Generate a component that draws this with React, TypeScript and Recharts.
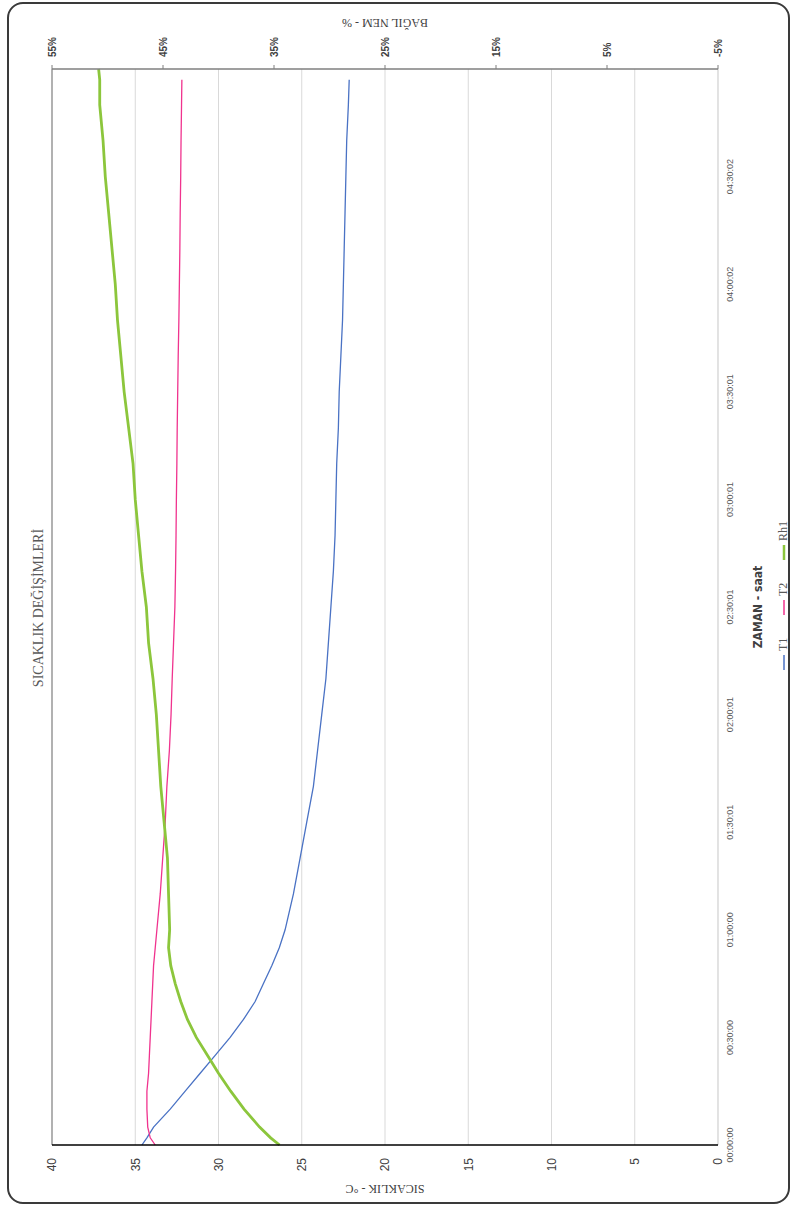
import React from 'react'
import { LineChart, Line, XAxis, YAxis, CartesianGrid, Legend, ReferenceLine, Label } from 'recharts'

// elapsed time in minutes
const minutes = [0, 2, 5, 10, 15, 20, 25, 30, 35, 40, 45, 50, 55, 60, 70, 80, 90, 100, 110, 120, 130, 140, 150, 160, 170, 180, 190, 200, 210, 220, 230, 240, 250, 260, 270, 280, 290, 297, 300]

const t1 = [34.6, 34.3, 33.9, 32.9, 32.0, 31.1, 30.2, 29.3, 28.5, 27.8, 27.3, 26.8, 26.35, 26.0, 25.5, 25.1, 24.7, 24.3, 24.05, 23.8, 23.55, 23.4, 23.25, 23.1, 23.0, 22.95, 22.9, 22.8, 22.75, 22.65, 22.55, 22.5, 22.45, 22.4, 22.35, 22.3, 22.2, 22.15, null]

const t2 = [33.8, 34.1, 34.25, 34.3, 34.3, 34.2, 34.15, 34.1, 34.05, 34.0, 33.95, 33.9, 33.8, 33.7, 33.5, 33.35, 33.2, 33.1, 32.95, 32.85, 32.78, 32.7, 32.62, 32.58, 32.55, 32.53, 32.5, 32.48, 32.45, 32.42, 32.38, 32.35, 32.32, 32.3, 32.27, 32.25, 32.22, 32.2, null]

const rh1 = [34.5, 35.3, 36.3, 37.7, 38.9, 40.0, 41.0, 42.0, 42.8, 43.4, 43.9, 44.3, 44.5, 44.4, 44.5, 44.6, 44.9, 45.2, 45.4, 45.6, 45.9, 46.3, 46.5, 46.9, 47.2, 47.5, 47.7, 48.1, 48.5, 48.8, 49.1, 49.3, 49.6, 49.9, 50.2, 50.4, 50.7, 50.7, 50.8]

const timeTicks = [0, 30, 60, 90, 120, 150, 180, 210, 240, 270]
const timeLabels = ['00:00:00', '00:30:00', '01:00:00', '01:30:01', '02:00:01', '02:30:01', '03:00:01', '03:30:01', '04:00:02', '04:30:02']
const tempTicks = [0, 5, 10, 15, 20, 25, 30, 35, 40]
const rhTicks = [-5, 5, 15, 25, 35, 45, 55]

const data = minutes.map((m, i) => ({ m, T1: t1[i], T2: t2[i], Rh1: rh1[i] }))

const SERIES = [
  { key: 'T1', color: '#4a72c4', width: 1.3, axis: 'temp' },
  { key: 'T2', color: '#f0338e', width: 1.3, axis: 'temp' },
  { key: 'Rh1', color: '#8cc63c', width: 2.8, axis: 'rh' },
]

const LegendBox = () => (
  <div style={{ position: 'relative', height: 16 }}>
    {SERIES.map((s, i) => (
      <div
        key={s.key}
        style={{
          position: 'absolute',
          left: 537 + i * 55,
          top: 0,
          display: 'flex',
          alignItems: 'center',
          fontFamily: 'Liberation Serif, serif',
          fontSize: 12,
          color: '#595959',
        }}
      >
        <svg width={15} height={10} style={{ marginRight: 4 }}>
          <line x1={0} y1={5} x2={15} y2={5} stroke={s.color} strokeWidth={s.width > 2 ? 2.5 : 1.5} />
        </svg>
        {s.key}
      </div>
    ))}
  </div>
)

const App = () => {
  return (
    <div style={{ position: 'absolute', left: 0, top: 0, width: 793, height: 1207, overflow: 'hidden', background: '#fff' }}>
      <div
        style={{
          position: 'absolute',
          left: 7,
          top: 2,
          width: 783,
          height: 1202,
          boxSizing: 'border-box',
          border: '2px solid #3a3a3a',
          borderRadius: 16,
        }}
      />
      <div
        style={{
          position: 'absolute',
          left: 0,
          top: 1207,
          width: 1207,
          height: 793,
          transformOrigin: '0 0',
          transform: 'rotate(-90deg)',
        }}
      >
        <div
          style={{
            position: 'absolute',
            top: 31,
            left: 0,
            width: 1198,
            textAlign: 'center',
            fontFamily: 'Liberation Serif, serif',
            fontSize: 14,
            color: '#595959',
          }}
        >
          SICAKLIK DEĞİŞİMLERİ
        </div>
        <LineChart width={1207} height={793} data={data} margin={{ top: 52, right: 29, bottom: 45, left: 22 }}>
          <CartesianGrid yAxisId="temp" vertical={false} stroke="#d9d9d9" />
          <XAxis
            dataKey="m"
            type="number"
            domain={[0, 300]}
            ticks={timeTicks}
            interval={0}
            tickFormatter={(v: number) => timeLabels[timeTicks.indexOf(v)] ?? ''}
            tickLine={false}
            tickSize={6}
            tickMargin={3}
            height={30}
            axisLine={{ stroke: '#d9d9d9' }}
            tick={{ fontSize: 9, fill: '#595959', fontFamily: 'Liberation Sans, sans-serif' }}
          >
            <Label
              value="ZAMAN - saat"
              position="bottom"
              offset={5}
              style={{ fontSize: 12, fontWeight: 700, fill: '#404040', fontFamily: 'Liberation Sans Narrow, DejaVu Sans Condensed, sans-serif' }}
            />
          </XAxis>
          <YAxis
            yAxisId="temp"
            domain={[0, 40]}
            ticks={tempTicks}
            interval={0}
            width={40}
            tickLine={false}
            tickSize={6}
            tickMargin={7}
            axisLine={{ stroke: '#000', strokeWidth: 1.5 }}
            tick={{ fontSize: 12, fill: '#404040', fontFamily: 'Liberation Sans, sans-serif' }}
          >
            <Label
              value="SICAKLIK - °C"
              angle={-90}
              position="left"
              offset={4}
              style={{ textAnchor: 'middle', fontSize: 12, fill: '#404040', fontFamily: 'Liberation Serif, serif' }}
            />
          </YAxis>
          <YAxis
            yAxisId="rh"
            orientation="right"
            domain={[-5, 55]}
            ticks={rhTicks}
            interval={0}
            width={40}
            tickSize={4}
            tickMargin={8}
            tickLine={{ stroke: '#7f7f7f' }}
            tickFormatter={(v: number) => `${v}%`}
            axisLine={{ stroke: '#7f7f7f', strokeWidth: 1.5 }}
            tick={{ fontSize: 10, fontWeight: 700, fill: '#404040', fontFamily: 'Liberation Sans, sans-serif' }}
          >
            <Label
              value="BAĞIL NEM - %"
              angle={-90}
              position="right"
              offset={6}
              style={{ textAnchor: 'middle', fontSize: 12, fill: '#404040', fontFamily: 'Liberation Serif, serif' }}
            />
          </YAxis>
          <ReferenceLine yAxisId="temp" y={40} stroke="#8a8a8a" strokeWidth={1.2} />
          {SERIES.map((s) => (
            <Line
              key={s.key}
              yAxisId={s.axis}
              dataKey={s.key}
              type="linear"
              stroke={s.color}
              strokeWidth={s.width}
              dot={false}
              isAnimationActive={false}
            />
          ))}
          <Legend
            layout="horizontal"
            verticalAlign="middle"
            align="center"
            wrapperStyle={{ left: 0, top: 776, width: 1207 }}
            content={() => <LegendBox />}
          />
        </LineChart>
      </div>
    </div>
  )
}

export default App
